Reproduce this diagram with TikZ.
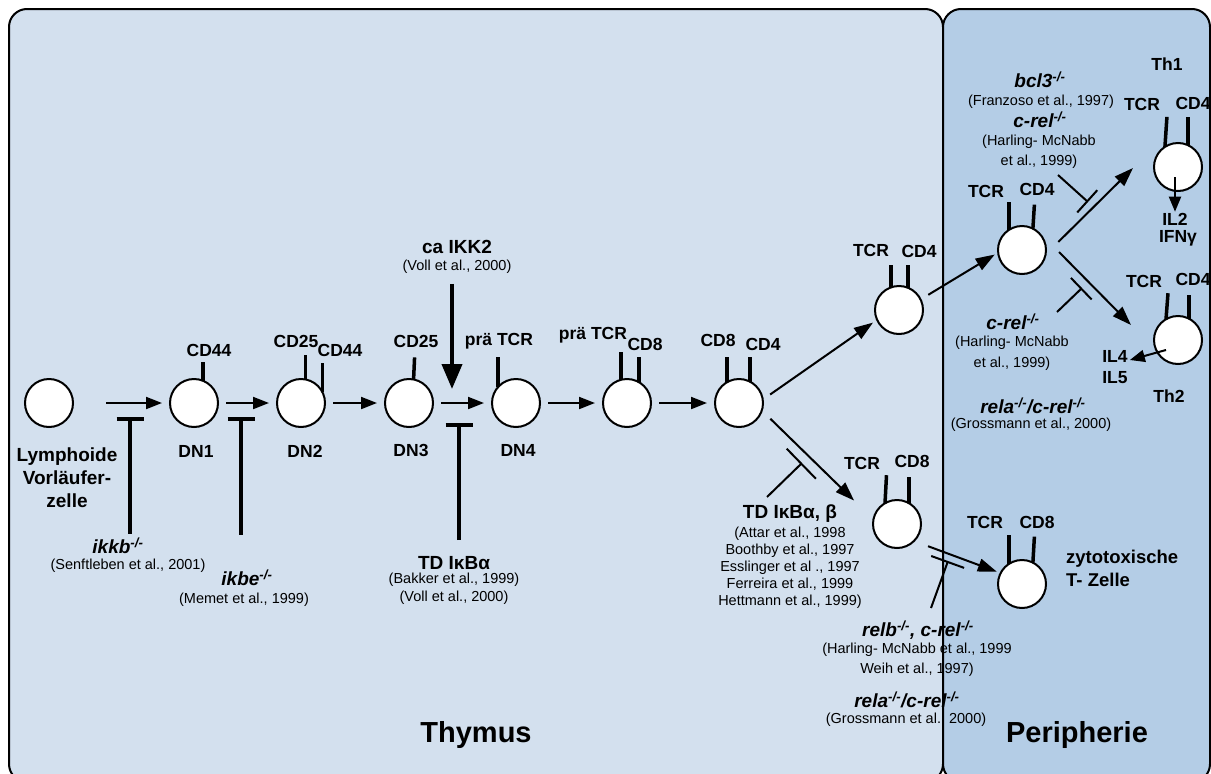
\documentclass[tikz,border=0pt]{standalone}
\usepackage{fontspec}
\setmainfont{Liberation Sans}
\usetikzlibrary{arrows.meta,calc}
\definecolor{thy}{RGB}{211,224,238}
\definecolor{per}{RGB}{180,205,230}
\tikzset{
 cell/.style={circle,draw=black,line width=2pt,fill=white,minimum size=48pt,inner sep=0pt,outer sep=0pt},
 lab/.style={font=\fontsize{17.5}{20}\selectfont\bfseries,inner sep=0pt},
 big/.style={font=\fontsize{19}{23}\selectfont\bfseries,inner sep=0pt,align=center},
 mut/.style={font=\fontsize{19}{22}\selectfont\bfseries\itshape,inner sep=0pt},
 cite/.style={font=\fontsize{14.5}{17}\selectfont,inner sep=0pt},
 ttl/.style={font=\fontsize{29}{32}\selectfont\bfseries,inner sep=0pt},
 stalk/.style={line width=3.5pt},
 arr/.style={line width=2pt,-{Triangle[length=16pt,width=12pt]},shorten <=8pt,shorten >=8pt},
 darr/.style={line width=2pt,-{Triangle[length=19pt,width=13pt]}},
 sarr/.style={line width=2pt,-{Triangle[length=15pt,width=12pt]}},
 tbar/.style={line width=4pt,-{Bar[width=27pt]}},
 dbar/.style={line width=2pt,-{Bar[width=#1]}},
 panel/.style={line width=2pt,draw=black,rounded corners=18pt},
}
\begin{document}
\begin{tikzpicture}[x=1pt,y=-1pt]
\useasboundingbox (0,0) rectangle (1211,774);
\path[panel,fill=thy] (9,9) rectangle (943,782);
\path[panel,fill=per] (943,9) rectangle (1210,782);

% cells
\node[cell] (L) at (49,403) {};
\node[cell] (DN1) at (194,403) {};
\node[cell] (DN2) at (301,403) {};
\node[cell] (DN3) at (409,403) {};
\node[cell] (DN4) at (516,403) {};
\node[cell] (C5) at (627,403) {};
\node[cell] (C6) at (739,403) {};
\node[cell] (U4) at (899,310) {};
\node[cell] (L8) at (897,524) {};
\node[cell] (RT) at (1022,250) {};
\node[cell] (Th1) at (1178,167) {};
\node[cell] (Th2) at (1178,340) {};
\node[cell] (Z) at (1022,584) {};

% receptor stalks
\draw[stalk] (DN1.68) -- ++(0,-19);
\draw[stalk] (DN2.79) -- ++(0,-24);
\draw[stalk] (DN2.26) -- ++(0,-29);
\draw[stalk] (DN3.79) -- ++(1,-22);
\draw[stalk] (DN4.139) -- ++(0,-30);
\draw[stalk] (C5.104) -- ++(0,-28);
\draw[stalk] (C5.60) -- ++(0,-25);
\draw[stalk] (C6.120) -- ++(0,-25);
\draw[stalk] (C6.63) -- ++(0,-25);
\draw[stalk] (U4.110) -- ++(0,-22);
\draw[stalk] (U4.68) -- ++(0,-23);
\draw[stalk] (L8.120) -- ++(1.5,-28);
\draw[stalk] (L8.60) -- ++(0,-26);
\draw[stalk] (RT.123) -- ++(0,-28);
\draw[stalk] (RT.63) -- ++(1.5,-24);
\draw[stalk] (Th1.123) -- ++(2,-30);
\draw[stalk] (Th1.65) -- ++(0,-28);
\draw[stalk] (Th2.120) -- ++(2,-26);
\draw[stalk] (Th2.63) -- ++(0,-24);
\draw[stalk] (Z.123) -- ++(0,-29);
\draw[stalk] (Z.63) -- ++(1.5,-26);

% marker labels
\node[lab] (mDN1) at (209,350) {CD44};
\node[lab] (mDN2a) at (296,341) {CD25};
\node[lab] (mDN2b) at (340,350) {CD44};
\node[lab] (mDN3) at (416,341) {CD25};
\node[lab] (mDN4) at (499,341) {prä TCR};
\node[lab] (mC5a) at (593,335) {prä TCR};
\node[lab] (mC5b) at (645,344) {CD8};
\node[lab] (mC6a) at (718,340) {CD8};
\node[lab] (mC6b) at (763,344) {CD4};
\node[lab] (mU4a) at (871,250) {TCR};
\node[lab] (mU4b) at (919,251) {CD4};
\node[lab] (mL8a) at (862,463) {TCR};
\node[lab] (mL8b) at (912,461) {CD8};
\node[lab] (mRTa) at (986,191) {TCR};
\node[lab] (mRTb) at (1037,189) {CD4};
\node[lab] (mTh1a) at (1142,104) {TCR};
\node[lab] (mTh1b) at (1193,103) {CD4};
\node[lab] (mTh2a) at (1144,281) {TCR};
\node[lab] (mTh2b) at (1193,279) {CD4};
\node[lab] (mZa) at (985,522) {TCR};
\node[lab] (mZb) at (1037,522) {CD8};

% stage labels
\node[big] (tL) at (67,478) {Lymphoide\\Vorläufer-\\zelle};
\node[lab] (nDN1) at (196,451) {DN1};
\node[lab] (nDN2) at (305,451) {DN2};
\node[lab] (nDN3) at (411,450) {DN3};
\node[lab] (nDN4) at (518,450) {DN4};
\node[lab] (tTh1) at (1167,64) {Th1};
\node[lab] (tTh2) at (1169,396) {Th2};
\node[lab] (il2) at (1175,219) {IL2};
\node[lab] (ifn) at (1178,238) {IFNγ};
\node[lab] (il4) at (1115,356) {IL4};
\node[lab] (il5) at (1115,378) {IL5};
\node[big,align=left,anchor=west,font=\fontsize{18.5}{23}\selectfont\bfseries] (tZ) at (1066,568) {zytotoxische\\T- Zelle};
\node[ttl] (thymus) at (476,735) {Thymus};
\node[ttl] (peri) at (1077,735) {Peripherie};

% mutants and citations
\node[mut] (ikkb) at (118,546) {ikkb\textsuperscript{-/-}};
\node[cite] (senft) at (128,566) {(Senftleben et al., 2001)};
\node[mut] (ikbe) at (247,578) {ikbe\textsuperscript{-/-}};
\node[cite] (memet) at (244,600) {(Memet et al., 1999)};
\node[big] (caikk) at (457,247) {ca IKK2};
\node[cite] (vollA) at (457,267) {(Voll et al., 2000)};
\node[big] (tdia) at (454,563) {TD IκBα};
\node[cite] (bakker) at (454,580) {(Bakker et al., 1999)};
\node[cite] (vollB) at (454,598) {(Voll et al., 2000)};
\node[big] (tdab) at (790,514) {TD IκBα, β};
\node[cite,align=center] (attar) at (790,568) {(Attar et al., 1998\\Boothby et al., 1997\\Esslinger et al ., 1997\\Ferreira et al., 1999\\Hettmann et al., 1999)};
\node[mut] (bcl3) at (1040,80) {bcl3\textsuperscript{-/-}};
\node[cite] (franz) at (1041,102) {(Franzoso et al., 1997)};
\node[mut] (crelA) at (1040,120) {c-rel\textsuperscript{-/-}};
\node[cite,align=center,font=\fontsize{14.5}{20}\selectfont] (harlA) at (1039,152) {(Harling- McNabb\\et al., 1999)};
\node[mut] (crelB) at (1013,322) {c-rel\textsuperscript{-/-}};
\node[cite,align=center,font=\fontsize{14.5}{21}\selectfont] (harlB) at (1012,353.5) {(Harling- McNabb\\et al., 1999)};
\node[mut] (relaA) at (1033,406) {rela\textsuperscript{-/-}/c-rel\textsuperscript{-/-}};
\node[cite] (grossA) at (1031,425) {(Grossmann et al., 2000)};
\node[mut] (relb) at (918,630) {relb\textsuperscript{-/-}, c-rel\textsuperscript{-/-}};
\node[cite,align=center,font=\fontsize{14.5}{20}\selectfont] (harlC) at (917,660) {(Harling- McNabb et al., 1999\\Weih et al., 1997)};
\node[mut] (relaB) at (907,700) {rela\textsuperscript{-/-}/c-rel\textsuperscript{-/-}};
\node[cite] (grossB) at (906,720) {(Grossmann et al., 2000)};

% main chain
\draw[arr,shorten <=33pt] (L) -- (DN1);
\draw[arr] (DN1) -- (DN2);
\draw[arr] (DN2) -- (DN3);
\draw[arr] (DN3) -- (DN4);
\draw[arr] (DN4) -- (C5);
\draw[arr] (C5) -- (C6);

% inhibitors in thymus
\coordinate (barA) at (130,417);
\coordinate (barB) at (241,417);
\coordinate (barC) at (459,423);
\draw[tbar,shorten <=4pt] (barA |- ikkb.north) -- (barA);
\draw[tbar,shorten <=35pt] (barB |- ikbe.north) -- (barB);
\draw[tbar,shorten <=16pt] (barC |- tdia.north) -- (barC);

% ca IKK2
\coordinate (ikktip) at (452,389);
\draw[line width=4pt,-{Triangle[length=25pt,width=20pt]},shorten <=10pt] (ikktip |- vollA.south) -- (ikktip);

% branching
\draw[darr,shorten <=9pt,shorten >=5pt] (C6.8) -- (U4.-156);
\draw[darr,shorten <=12pt,shorten >=27pt] (C6.-18.5) -- (L8.169);
\draw[darr,shorten <=15pt,shorten >=4pt] (L8.-45.5) -- (Z.153);
\draw[darr,shorten <=9pt,shorten >=4pt] (U4.26) -- (RT.186);
\coordinate (th1in) at (1133,168);
\draw[darr,shorten <=18pt] (RT.-11) -- (th1in);
\coordinate (th2in) at (1131,325);
\draw[darr] ([shift={(13,2)}]RT.east) -- (th2in);

% cytokine arrows
\draw[sarr] ([shift={(-3,10)}]Th1.center) -- ([shift={(0,-1)}]il2.north);
\draw[sarr] ([shift={(-12,10)}]Th2.center) -- ([shift={(2,4)}]il4.east);

% diagonal inhibitors
\coordinate (tdabS) at (767,497); \coordinate (tdabB) at (802,463);
\draw[dbar=42pt] (tdabS) -- (tdabB);
\coordinate (relbS) at (931,608); \coordinate (relbB) at (948,561);
\draw[dbar=35pt] (relbS) -- (relbB);
\coordinate (crelAS) at (1058,175); \coordinate (crelAB) at (1088,202);
\draw[dbar=30pt] (crelAS) -- (crelAB);
\coordinate (crelBS) at (1057,312); \coordinate (crelBB) at (1082,288);
\draw[dbar=30pt] (crelBS) -- (crelBB);
\end{tikzpicture}
\end{document}
